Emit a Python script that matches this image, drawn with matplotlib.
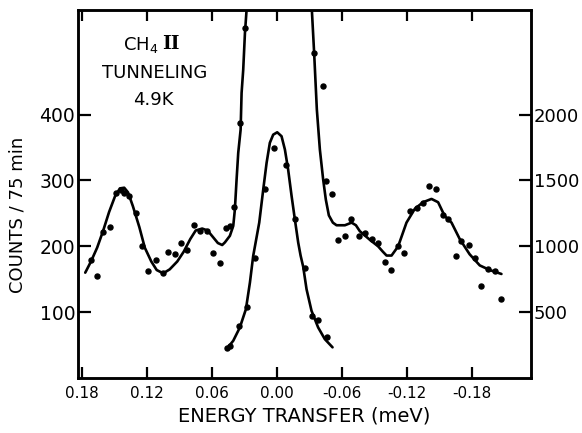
import matplotlib
matplotlib.use("Agg")
import matplotlib.pyplot as plt

# ---------------- data ----------------
# wing data, left axis (counts / 75 min)
left_x = [0.172, 0.166, 0.161, 0.154, 0.149, 0.144, 0.1415, 0.137, 0.130, 0.125,
          0.119, 0.112, 0.105, 0.101, 0.094, 0.089, 0.083, 0.077, 0.071, 0.065,
          0.059, 0.053, 0.047, 0.0435, 0.040, 0.034, 0.029]
left_y = [179, 155, 222, 230, 281, 285, 281, 277, 251, 200,
          163, 179, 159, 191, 189, 205, 195, 232, 224, 224,
          190, 175, 228, 231, 259, 387, 531]

right_x = [-0.0340, -0.0430, -0.0450, -0.0505, -0.0566, -0.0628, -0.0683, -0.0760,
           -0.0812, -0.0874, -0.0930, -0.0997, -0.1052, -0.1114, -0.1172, -0.1228,
           -0.1290, -0.1350, -0.1407, -0.1468, -0.1535, -0.1580, -0.1650, -0.1705,
           -0.1775, -0.1828, -0.1883, -0.1950, -0.2012, -0.2068]
right_y = [493, 444, 299, 279, 209, 216, 241, 215,
           220, 211, 205, 176, 164, 200, 190, 254,
           258, 266, 292, 287, 248, 241, 185, 208,
           202, 183, 139, 166, 163, 120]

# fitted curve through the wings (left axis)
fitL_x = [0.177, 0.1717, 0.166, 0.1606, 0.155, 0.1495, 0.145, 0.141, 0.1375, 0.133,
          0.127, 0.122, 0.116, 0.111, 0.105, 0.099, 0.092, 0.086, 0.080, 0.075,
          0.069, 0.064, 0.059, 0.0545, 0.0505, 0.048, 0.0434, 0.0403, 0.0388,
          0.0372, 0.0357, 0.0335, 0.0326, 0.0311, 0.0295, 0.028]
fitL_y = [160, 177, 198, 223, 252, 276, 288, 289, 282, 261,
          229, 198, 177, 164, 159, 165, 177, 192, 211, 224,
          227, 224, 214, 205, 202, 206, 216, 231, 256,
          302, 342, 377, 433, 468, 524, 559]

fitR_x = [-0.0323, -0.0344, -0.0369, -0.0397, -0.0427, -0.0452, -0.0480, -0.0517,
          -0.0551, -0.0628, -0.0690, -0.0730, -0.0766, -0.0858, -0.0935, -0.0978,
          -0.1013, -0.1059, -0.1120, -0.1197, -0.1274, -0.1350, -0.1428, -0.1489,
          -0.1550, -0.1613, -0.1689, -0.1780, -0.1874, -0.1966, -0.2074]
fitR_y = [559, 494, 408, 347, 302, 271, 247, 236,
          232, 232, 236, 232, 223, 210, 200, 192,
          186, 186, 200, 236, 257, 267, 272, 267,
          246, 236, 211, 188, 171, 164, 158]

# central elastic peak, right axis
cen_x = [0.0464, 0.0434, 0.0348, 0.0280, 0.0203, 0.0110, 0.0028, -0.0083,
         -0.0166, -0.0258, -0.0320, -0.0381, -0.0459]
cen_y = [227, 245, 396, 543, 914, 1437, 1748, 1614,
         1210, 839, 472, 442, 308]

fitC_x = [0.0464, 0.0403, 0.0342, 0.0286, 0.0249, 0.0219, 0.0163, 0.0126, 0.0095,
          0.0065, 0.0034, -0.0003, -0.0043, -0.0074, -0.0104, -0.0136, -0.0166,
          -0.0197, -0.0219, -0.0243, -0.0274, -0.0320, -0.0381, -0.0443, -0.0514]
fitC_y = [220, 283, 384, 523, 725, 926, 1180, 1432, 1634,
          1786, 1848, 1866, 1836, 1735, 1583, 1381, 1205,
          1028, 930, 845, 674, 510, 384, 295, 233]

xticks = [0.18, 0.12, 0.06, 0.00, -0.06, -0.12, -0.18]
xticklabels = ["0.18", "0.12", "0.06", "0.00", "-0.06", "-0.12", "-0.18"]
lticks = [100, 200, 300, 400]
rticks = [500, 1000, 1500, 2000]

# ---------------- figure ----------------
plt.rcParams['font.family'] = ['DejaVu Sans']
fig = plt.figure(figsize=(5.82, 4.33), dpi=100)
ax = fig.add_axes([0.134, 0.127, 0.778, 0.850])
ax2 = ax.twinx()

ylim_left = (0, 559)
ax.set_ylim(*ylim_left)
ax2.set_ylim(ylim_left[0] * 5, ylim_left[1] * 5)
ax.set_xlim(0.1837, -0.2345)

lw = 1.9
ms = 3.6
ax.plot(fitL_x, fitL_y, color='black', lw=lw, solid_capstyle='round')
ax.plot(fitR_x, fitR_y, color='black', lw=lw, solid_capstyle='round')
ax.plot(left_x, left_y, 'o', color='black', ms=ms)
ax.plot(right_x, right_y, 'o', color='black', ms=ms)
ax2.plot(fitC_x, fitC_y, color='black', lw=lw, solid_capstyle='round')
ax2.plot(cen_x, cen_y, 'o', color='black', ms=ms)

for a in (ax, ax2):
    for s in a.spines.values():
        s.set_linewidth(1.8)

ax.set_xticks(xticks)
ax.set_xticklabels(xticklabels, fontsize=11)
ax.set_yticks(lticks)
ax.set_yticklabels([str(t) for t in lticks], fontsize=13.5)
ax2.set_yticks(rticks)
ax2.set_yticklabels([str(t) for t in rticks], fontsize=13)

ax.tick_params(axis='x', direction='in', length=8, width=1.6, top=True, pad=6)
ax.tick_params(axis='y', direction='in', length=9, width=1.6, pad=2)
ax2.tick_params(axis='y', direction='in', length=9, width=1.6, pad=2)

ax.set_xlabel("ENERGY TRANSFER (meV)", fontsize=14, labelpad=4)
ax.set_ylabel("COUNTS / 75 min", fontsize=13)
ax.yaxis.set_label_coords(-0.113, 0.443)

ax.text(0.179, 0.905, "CH$_4$", transform=ax.transAxes, ha='right', va='center',
        fontsize=13)
ax.text(0.186, 0.907, "II", transform=ax.transAxes, ha='left', va='center',
        fontsize=13.5, family='DejaVu Serif', fontweight='bold')
ax.text(0.170, 0.829, "TUNNELING", transform=ax.transAxes, ha='center', va='center',
        fontsize=13)
ax.text(0.166, 0.755, "4.9K", transform=ax.transAxes, ha='center', va='center',
        fontsize=13)

fig.savefig("out.png", dpi=100)
